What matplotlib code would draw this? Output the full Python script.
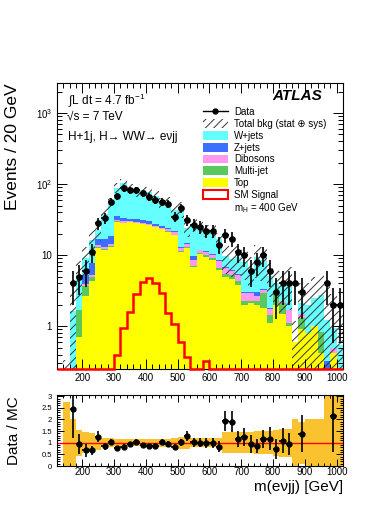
import numpy as np
import matplotlib
matplotlib.use("Agg")
import matplotlib.pyplot as plt
from matplotlib.patches import Patch
from matplotlib.lines import Line2D
from matplotlib.ticker import MultipleLocator, LogLocator, FuncFormatter, NullFormatter, FixedLocator

plt.rcParams['font.family'] = ['Liberation Sans', 'DejaVu Sans']
plt.rcParams['mathtext.fontset'] = 'custom'
plt.rcParams['mathtext.rm'] = 'Liberation Sans'
plt.rcParams['mathtext.it'] = 'Liberation Sans:italic'
plt.rcParams['hatch.linewidth'] = 0.7

# 20 GeV bins from 120 to 1020 GeV
EDGES = np.arange(120, 1021, 20)
CENTERS = EDGES[:-1] + 10

# stacked backgrounds (events / 20 GeV)
top = [0, 0, 0, 0.7, 2.7, 4.4, 12.5, 12, 13, 29.5, 28.3, 29, 28, 27.2, 26.5, 24.6, 23, 21.3, 19, 11,
       12.5, 6.8, 10.3, 9.5, 8.5, 6.2, 5.0, 4.6, 3.8, 2.0, 2.1, 2.0, 1.8, 1.1, 2.0, 1.5, 1.0, 0.6, 0.9, 0.8,
       1.0, 0.42, 0, 0.42, 0]
multijet = [0, 0, 0, 1.0, 1.0, 0.6, 0.5, 0.3, 0.4, 0.6, 0.5, 0.3, 0.5, 0.3, 0.3, 0.3, 0.3, 0.4, 0.4, 0.3,
            0.4, 0.3, 0.4, 0.4, 0.5, 0.5, 0.5, 0.6, 0.5, 0.3, 0.2, 0.3, 1.1, 0.35, 0.8, 0.6, 0.1, 0, 0.4, 0,
            0, 0.4, 0, 0, 0]
dibosons = [0, 0, 0, 0, 0.2, 0.3, 1.0, 0.7, 0.8, 1.0, 1.2, 1.0, 1.0, 1.2, 1.0, 1.0, 1.2, 1.3, 1.5, 1.3,
            1.3, 1.5, 1.0, 1.2, 1.2, 1.5, 1.0, 0.8, 1.0, 0.6, 0.6, 0.4, 0.3, 0.3, 0.3, 0.2, 0.6, 0, 0.2, 0,
            0, 0, 0, 0.08, 0]
zjets = [0, 0, 0, 0, 1.4, 2.5, 3.0, 4.0, 4.5, 4.5, 3.5, 2.5, 2.5, 2.3, 2.0, 1.5, 1.3, 1.0, 0.8, 0.4,
         0.5, 1.0, 0.3, 0.3, 0.3, 0.3, 0.3, 0.2, 0.2, 0.1, 0.1, 0.3, 0.1, 0.05, 0.05, 0, 0, 0, 0, 0,
         0, 0, 0.32, 0, 0]
wjets = [0, 0.12, 1.64, 3.6, 3.7, 8.5, 5.3, 21.6, 35.3, 53.4, 70.5, 54.2, 46, 52, 47.2, 41.6, 28.2, 32, 21.3, 32,
         9.3, 16.9, 13, 11.1, 11.5, 8.3, 3.0, 2.7, 3.9, 5.1, 3.4, 6.4, 5.3, 3.3, 0.95, 1.4, 2.5, 0, 0.65, 1.2,
         1.5, 1.9, 0.9, 0.44, 0.55]
# relative (stat + sys) uncertainty on the total background
bkg_rel_unc = [0, 1.75, 1.0, 0.55, 0.45, 0.4, 0.3, 0.2, 0.2, 0.15, 0.15, 0.15, 0.15, 0.15, 0.17, 0.17, 0.18,
               0.18, 0.2, 0.25, 0.25, 0.2, 0.2, 0.2, 0.2, 0.22, 0.45, 0.45, 0.45, 0.45, 0.45, 0.5, 0.5, 0.5,
               0.55, 0.6, 0.6, 1.0, 0.9, 1.0, 1.0, 1.0, 2.0, 2.0, 2.0]
data = [0, 0, 4, 5, 6, 11, 28, 33, 56, 68, 87, 82, 82, 74, 66, 60, 56, 53, 35, 46,
        31, 27, 25, 22, 22, 14, 19, 17, 11, 10, 6, 8, 10, 6, 3, 4, 4, 4, 3, 0,
        0, 0, 4, 2, 2]
signal = [0, 0, 0, 0, 0, 0, 0, 0, 0, 0.39, 0.95, 1.59, 2.8, 4.2, 4.7, 4.1, 2.9, 1.56, 1.06, 0.6,
          0.37, 0.15, 0.1, 0.32, 0.1, 0, 0, 0, 0, 0, 0, 0, 0, 0, 0, 0, 0, 0, 0, 0,
          0, 0, 0, 0, 0]

YMIN, YMAX = 0.25, 2650

layers = [("Top", top, "#ffff00"),
          ("Multi-jet", multijet, "#5ac85a"),
          ("Dibosons", dibosons, "#ff99f0"),
          ("Z+jets", zjets, "#3c6eff"),
          ("W+jets", wjets, "#66ffff")]

fig = plt.figure(figsize=(3.9, 5.05), dpi=100)
ax = fig.add_axes([0.146, 0.2693, 0.7333, 0.5663])
axr = fig.add_axes([0.146, 0.0772, 0.7333, 0.1406])

# stack
cum = np.cumsum([np.array(v, float) for _, v, _ in layers], axis=0)
for k in range(len(layers) - 1, -1, -1):
    ax.stairs(cum[k], EDGES, baseline=1e-3, fill=True, color=layers[k][2], lw=0)
total = cum[-1]
rel = np.array(bkg_rel_unc)
lo = np.clip(total * (1 - rel), 1e-3, None)
hi = total * (1 + rel)
ax.stairs(hi, EDGES, baseline=lo, fill=True, facecolor='none', edgecolor='#333333',
          hatch='////', lw=0)

# signal (empty bins drawn on the frame, like ROOT does)
sig = np.clip(np.array(signal), YMIN, None)
ax.stairs(sig, EDGES, baseline=None, color='red', lw=1.8, clip_on=False, zorder=3)

# data
d = np.array(data, float)
m = d > 0
ax.errorbar(CENTERS[m], d[m], xerr=10, yerr=np.sqrt(d[m]), fmt='o', color='black',
            ms=3.8, lw=1.2, capsize=0, zorder=4)

ax.set_yscale('log')
ax.set_xlim(120, 1020)
ax.set_ylim(YMIN, YMAX)

def log_fmt(v, pos):
    if abs(v - 1) < 1e-9:
        return "1"
    if abs(v - 10) < 1e-9:
        return "10"
    return r"10$^{%d}$" % round(np.log10(v))

ax.yaxis.set_major_locator(FixedLocator([1, 10, 100, 1000]))
ax.yaxis.set_major_formatter(FuncFormatter(log_fmt))
ax.yaxis.set_minor_locator(LogLocator(base=10, subs=np.arange(2, 10)))
ax.yaxis.set_minor_formatter(NullFormatter())

for a in (ax, axr):
    a.xaxis.set_major_locator(MultipleLocator(100))
    a.xaxis.set_minor_locator(MultipleLocator(20))
    a.tick_params(which='both', direction='in', top=True, right=True, labelsize=7, width=0.7)
    a.tick_params(which='major', length=7)
    a.tick_params(which='minor', length=3.5)
    for s in a.spines.values():
        s.set_linewidth(0.8)
ax.tick_params(axis='x', pad=3)

# legend
handles = [Line2D([], [], color='black', marker='o', ms=3.5, lw=1.0),
           Patch(facecolor='white', edgecolor='#333333', hatch='////', lw=0)]
labels = ["Data", "Total bkg (stat \u2295 sys)"]
for name, _, color in reversed(layers):
    handles.append(Patch(facecolor=color, lw=0))
    labels.append(name)
handles.append(Patch(facecolor='white', edgecolor='red', lw=1.5))
labels.append("SM Signal")
handles.append(Line2D([], [], color='none'))
labels.append(r"m$_{\rm H}$ = 400 GeV")
ax.legend(handles, labels, loc='upper left', bbox_to_anchor=(0.51, 0.915), frameon=False,
          fontsize=7, handlelength=2.6, handleheight=1.0, labelspacing=0.18,
          handletextpad=0.6, borderpad=0, borderaxespad=0)

ax.text(0.038, 0.94, r"$\int$L dt = 4.7 fb$^{-1}$", transform=ax.transAxes, fontsize=8.5, va='center')
ax.text(0.035, 0.881, "\u221As = 7 TeV", transform=ax.transAxes, fontsize=8.5, va='center')
ax.text(0.038, 0.811, "H+1j, H\u2192 WW\u2192 e\u03bdjj", transform=ax.transAxes, fontsize=8.5, va='center')
ax.text(0.927, 0.955, "ATLAS", transform=ax.transAxes, fontsize=11, fontweight='bold',
        fontstyle='italic', ha='right', va='center')

# ratio panel
band_lo = np.where(total > 0, 1 - rel, 1)
band_hi = np.where(total > 0, 1 + rel, 1)
axr.stairs(band_hi, EDGES, baseline=band_lo, fill=True, color='#f9c22e', lw=0)
axr.axhline(1, color='red', lw=1)
ok = (d > 0) & (total > 0)
ratio = np.zeros_like(d)
ratio[ok] = d[ok] / total[ok]
rerr = np.zeros_like(d)
rerr[ok] = np.sqrt(d[ok]) / total[ok]
ok &= ratio <= 3
axr.errorbar(CENTERS[ok], ratio[ok], xerr=10, yerr=rerr[ok], fmt='o', color='black',
             ms=3.5, lw=1.2, capsize=0)
axr.set_xlim(120, 1020)
axr.set_ylim(0, 3.05)
axr.yaxis.set_major_locator(FixedLocator([0, 0.5, 1, 1.5, 2, 2.5, 3]))
axr.yaxis.set_major_formatter(FuncFormatter(lambda v, p: "%g" % v))
axr.yaxis.set_minor_locator(MultipleLocator(0.1))
axr.tick_params(axis='y', labelsize=5.5)
axr.tick_params(axis='x', pad=1)
axr.tick_params(which='major', length=5)
axr.tick_params(which='minor', length=2.5)

fig.text(0.032, 0.8356, "Events / 20 GeV", rotation=90, ha='center', va='top', fontsize=12.5)
fig.text(0.035, 0.1475, "Data / MC", rotation=90, ha='center', va='center', fontsize=11)
fig.text(0.8795, 0.036, "m(e\u03bdjj) [GeV]", ha='right', va='center', fontsize=11)

fig.savefig("out.png", dpi=100)
